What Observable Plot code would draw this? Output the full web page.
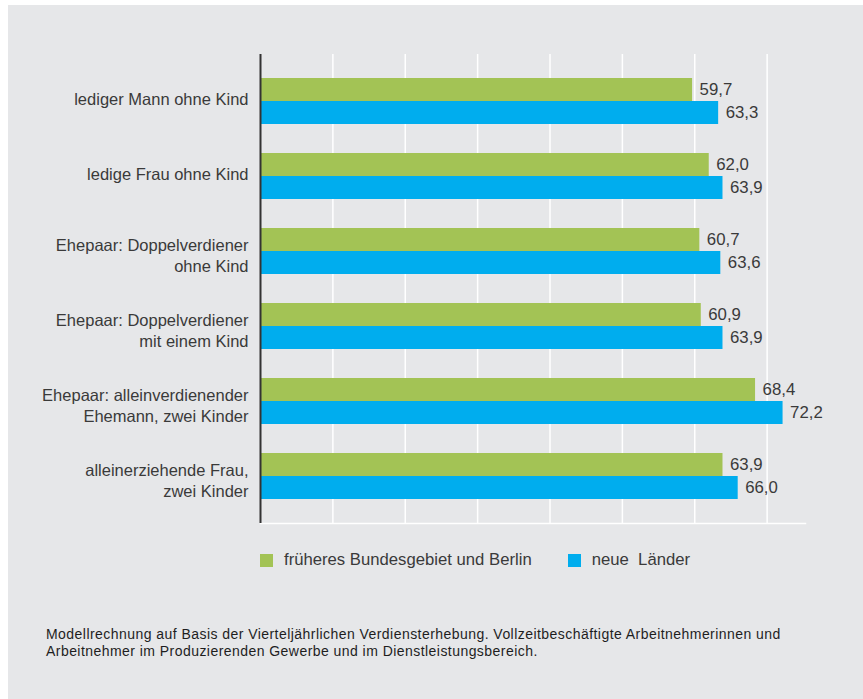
<!DOCTYPE html>
<html>
<head>
<meta charset="utf-8">
<script src="https://cdn.jsdelivr.net/npm/d3@7"></script>
<script src="https://cdn.jsdelivr.net/npm/@observablehq/plot@0.6"></script>
<style>
  html, body { margin: 0; padding: 0; background: #ffffff; }
  #panel {
    position: absolute; left: 8px; top: 5px; width: 855px; height: 694px;
    background: #e6e7e9; font-family: "Liberation Sans", Arial, sans-serif;
  }
  #chart { position: absolute; left: 0; top: 0; }
  #legend {
    position: absolute; left: 252px; top: 545px; font-size: 16.7px; color: #3a3a3a;
    display: flex; align-items: center; white-space: pre;
  }
  .sw { display: inline-block; width: 13px; height: 13px; margin-right: 11px; }
  #caption {
    position: absolute; left: 38px; top: 621px; font-size: 14px; letter-spacing: 0.45px;
    line-height: 16.5px; color: #1e1e1e; white-space: nowrap;
  }
</style>
</head>
<body>
<div id="panel">
  <div id="chart"></div>
  <div id="legend"></div>
  <div id="caption"></div>
</div>
<script>
const categories = [
  "lediger Mann ohne Kind",
  "ledige Frau ohne Kind",
  "Ehepaar: Doppelverdiener\nohne Kind",
  "Ehepaar: Doppelverdiener\nmit einem Kind",
  "Ehepaar: alleinverdienender\nEhemann, zwei Kinder",
  "alleinerziehende Frau,\nzwei Kinder"
];
const seriesNames = ["früheres Bundesgebiet und Berlin", "neue  Länder"];
const westValues = [59.7, 62.0, 60.7, 60.9, 68.4, 63.9];
const eastValues = [63.3, 63.9, 63.6, 63.9, 72.2, 66.0];
const gridTicks = [10, 20, 30, 40, 50, 60, 70];
const colors = ["#a3c355", "#00adee"];
const captionLines = [
  "Modellrechnung auf Basis der Vierteljährlichen Verdiensterhebung. Vollzeitbeschäftigte Arbeitnehmerinnen und",
  "Arbeitnehmer im Produzierenden Gewerbe und im Dienstleistungsbereich."
];

const west = categories.map((c, i) => ({category: c, value: westValues[i]}));
const east = categories.map((c, i) => ({category: c, value: eastValues[i]}));
const fmt = v => v.toFixed(1).replace(".", ",");
const singleLine = categories.filter(c => !c.includes("\n"));
const multiLine = categories.filter(c => c.includes("\n"));

const chart = Plot.plot({
  width: 855,
  height: 530,
  marginLeft: 252,
  marginRight: 58,
  marginTop: 49,
  marginBottom: 12,
  style: {background: "transparent", fontFamily: "'Liberation Sans', Arial, sans-serif"},
  x: {domain: [0, 75.3], axis: null},
  y: {domain: categories, paddingInner: 0.39, paddingOuter: 0.31, label: null, axis: null},
  marks: [
    Plot.ruleX(gridTicks, {stroke: "#ffffff", strokeWidth: 1.5}),
    Plot.frame({anchor: "bottom", stroke: "#ffffff", strokeWidth: 1.5}),
    Plot.barX(west, {x: "value", y: "category", fill: colors[0], insetBottom: 23}),
    Plot.barX(east, {x: "value", y: "category", fill: colors[1], insetTop: 23}),
    Plot.text(west, {x: "value", y: "category", text: d => fmt(d.value), dx: 7, dy: -11.5,
      textAnchor: "start", fontSize: 16.8, fill: "#3a3a3a"}),
    Plot.text(east, {x: "value", y: "category", text: d => fmt(d.value), dx: 7, dy: 11.5,
      textAnchor: "start", fontSize: 16.8, fill: "#3a3a3a"}),
    Plot.ruleX([0], {stroke: "#333333", strokeWidth: 2}),
    Plot.axisY({ticks: singleLine, tickSize: 0, tickPadding: 12, fontSize: 16.5, dy: -2,
      fill: "#3a3a3a", label: null}),
    Plot.axisY({ticks: multiLine, tickSize: 0, tickPadding: 12, fontSize: 16.5, lineHeight: 1.28, dy: 3,
      fill: "#3a3a3a", label: null})
  ]
});
document.getElementById("chart").appendChild(chart);

const legend = document.getElementById("legend");
seriesNames.forEach((name, i) => {
  const item = document.createElement("span");
  item.style.display = "inline-flex";
  item.style.alignItems = "center";
  item.style.marginRight = i === 0 ? "36px" : "0";
  const sw = document.createElement("span");
  sw.className = "sw";
  sw.style.background = colors[i];
  item.appendChild(sw);
  item.appendChild(document.createTextNode(name));
  legend.appendChild(item);
});
document.getElementById("caption").innerHTML = captionLines.join("<br>");
</script>
</body>
</html>
